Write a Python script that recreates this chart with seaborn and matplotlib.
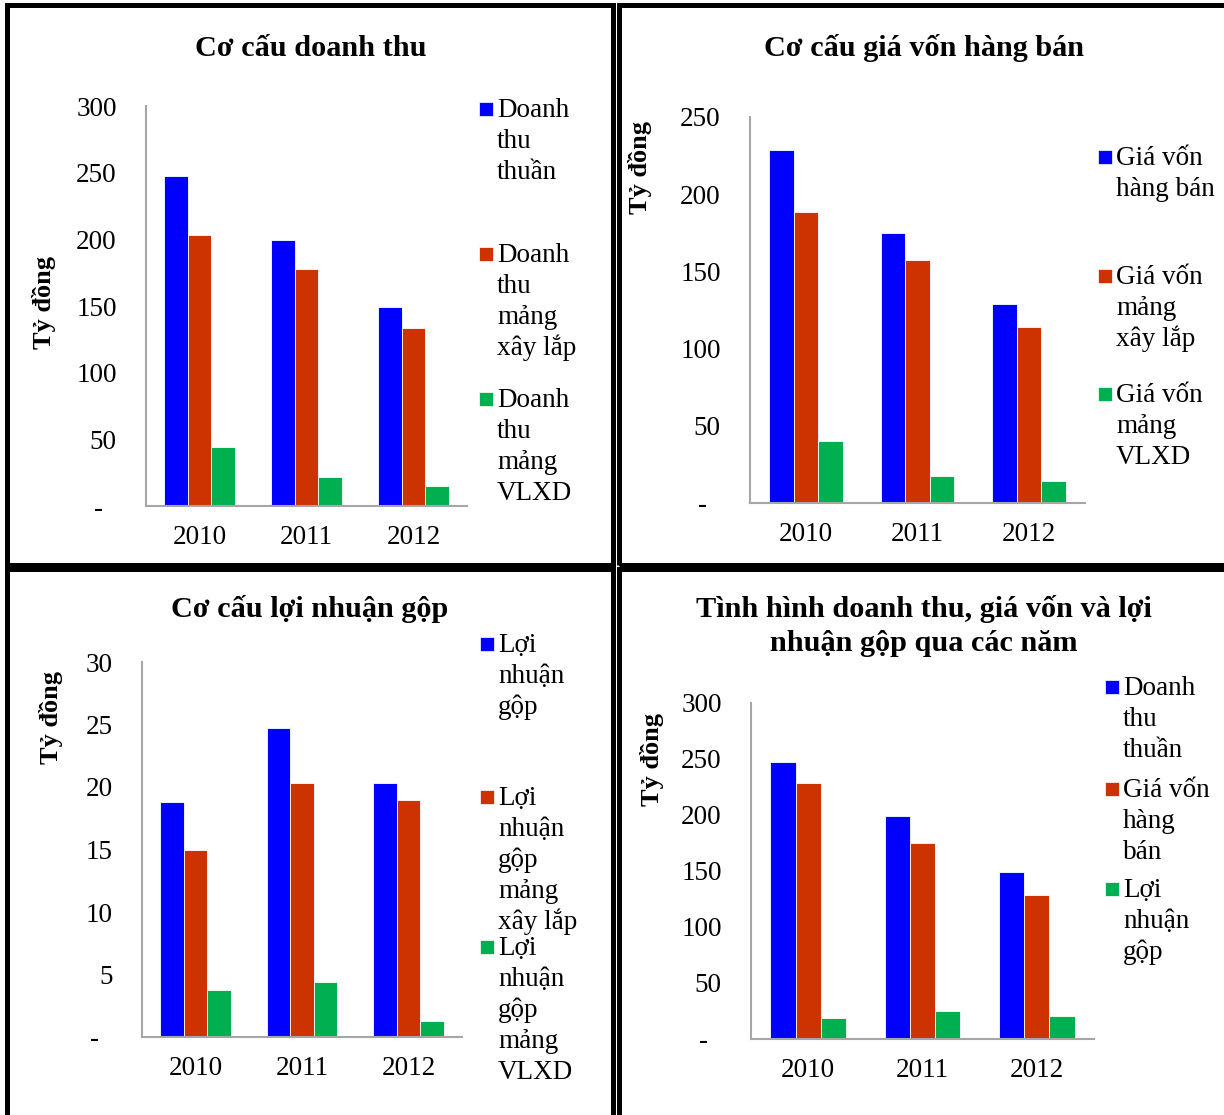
import numpy as np
import pandas as pd
import matplotlib.pyplot as plt
import matplotlib.patches as mpatches
import seaborn as sns

# so lieu (ty dong), doc tu hinh
years = ['2010', '2011', '2012']

dt_thuan = [247.6, 199.5, 148.9]
dt_xaylap = [203.5, 178.0, 133.3]
dt_vlxd = [44.5, 22.0, 15.0]

gv_hangban = [228.8, 175.0, 128.6]
gv_xaylap = [188.3, 157.2, 114.2]
gv_vlxd = [39.9, 17.2, 14.0]

ln_gop = [18.8, 24.7, 20.3]
ln_xaylap = [15.0, 20.3, 19.0]
ln_vlxd = [3.8, 4.4, 1.3]

colors = ['#0000FF', '#CC3300', '#00B050']

sns.set_style('white')
plt.rcParams['font.family'] = ['Liberation Serif', 'DejaVu Serif']
plt.rcParams['text.color'] = 'black'

W, H = 1224, 1115
fig = plt.figure(figsize=(W / 100, H / 100), dpi=100)


def px_axes(l, t, r, b):
    return fig.add_axes([l / W, 1 - b / H, (r - l) / W, (b - t) / H])


def fig_text(x, y, s, **kw):
    fig.text(x / W, 1 - y / H, s, **kw)


def bar_panel(box, series, names, ymax, step):
    ax = px_axes(*box)
    df = pd.DataFrame({'Năm': years * 3,
                       'Giá trị': sum(series, []),
                       'Chỉ tiêu': np.repeat(names, 3)})
    sns.barplot(data=df, x='Năm', y='Giá trị', hue='Chỉ tiêu', hue_order=names,
                palette=colors, saturation=1, width=0.66, edgecolor='white', linewidth=0.6,
                legend=False, ax=ax)
    ax.set_xlim(-0.5, 2.5)
    ax.set_ylim(0, ymax)
    yt = np.arange(0, ymax + step, step)
    ax.set_yticks(yt)
    ax.set_yticklabels(['-  '] + [f'{v:g}' for v in yt[1:]])
    ax.set_xticks([-0.5, 0.5, 1.5, 2.5])
    ax.set_xticklabels([])
    ax.set_xticks([0, 1, 2], minor=True)
    ax.set_xticklabels(years, minor=True)
    ax.tick_params(axis='x', which='major', length=8, width=1.3, color='#A6A6A6')
    ax.tick_params(axis='x', which='minor', length=0, pad=14, labelsize=19.5, labelcolor='black')
    ax.tick_params(axis='y', length=7, width=1.3, color='#A6A6A6', pad=14, labelsize=19.5,
                   labelcolor='black')
    ax.set_xlabel('')
    ax.set_ylabel('')
    for s in ['top', 'right']:
        ax.spines[s].set_visible(False)
    for s in ['left', 'bottom']:
        ax.spines[s].set_color('#A6A6A6')
        ax.spines[s].set_linewidth(1.5)
    return ax


def legend_entries(sq_x, baselines, labels, step=31):
    for col, base, lab in zip(colors, baselines, labels):
        fig.patches.append(mpatches.Rectangle((sq_x / W, 1 - (base - 1) / H), 14 / W, 14 / H,
                                              transform=fig.transFigure, facecolor=col,
                                              edgecolor='white', lw=0.5))
        for i, line in enumerate(lab.split('\n')):
            fig_text(sq_x + 18, base + i * step, line, fontsize=19.5, va='baseline', ha='left')


title_kw = dict(ha='center', va='baseline', fontsize=21.8, fontweight='bold')
ylab_kw = dict(rotation=90, ha='center', va='center', fontsize=19, fontweight='bold')

# 1. Co cau doanh thu
names1 = ['Doanh\nthu\nthuần', 'Doanh\nthu\nmảng\nxây lắp', 'Doanh\nthu\nmảng\nVLXD']
bar_panel((146, 106, 467, 506), [dt_thuan, dt_xaylap, dt_vlxd], names1, 300, 50)
fig_text(311, 56, 'Cơ cấu doanh thu', **title_kw)
fig_text(44, 302, 'Tỷ đồng', **ylab_kw)
legend_entries(479, [117, 262, 407], names1)

# 2. Co cau gia von hang ban
names2 = ['Giá vốn\nhàng bán', 'Giá vốn\nmảng\nxây lắp', 'Giá vốn\nmảng\nVLXD']
bar_panel((750, 117, 1085, 503), [gv_hangban, gv_xaylap, gv_vlxd], names2, 250, 50)
fig_text(924, 56, 'Cơ cấu giá vốn hàng bán', **title_kw)
fig_text(640, 168, 'Tỷ đồng', **ylab_kw)
legend_entries(1098, [165, 284, 402], names2)

# 3. Co cau loi nhuan gop
names3 = ['Lợi\nnhuận\ngộp', 'Lợi\nnhuận\ngộp\nmảng\nxây lắp', 'Lợi\nnhuận\ngộp\nmảng\nVLXD']
bar_panel((142, 662, 462, 1037), [ln_gop, ln_xaylap, ln_vlxd], names3, 30, 5)
fig_text(310, 617, 'Cơ cấu lợi nhuận gộp', **title_kw)
fig_text(51, 717, 'Tỷ đồng', **ylab_kw)
legend_entries(480, [652, 805, 955], names3)

# 4. Tong hop
names4 = ['Doanh\nthu\nthuần', 'Giá vốn\nhàng\nbán', 'Lợi\nnhuận\ngộp']
bar_panel((751, 703, 1094, 1039), [dt_thuan, gv_hangban, ln_gop], names4, 300, 50)
fig_text(924, 617, 'Tình hình doanh thu, giá vốn và lợi', **title_kw)
fig_text(924, 651, 'nhuận gộp qua các năm', **title_kw)
fig_text(652, 760, 'Tỷ đồng', **ylab_kw)
legend_entries(1105, [695, 797, 897], names4)

# khung den quanh tung bieu do
for (l, t, r, b) in [(7, 5, 613, 565), (619, 5, 1230, 565), (7, 569, 613, 1122), (619, 569, 1230, 1122)]:
    fig.patches.append(mpatches.Rectangle((l / W, 1 - b / H), (r - l) / W, (b - t) / H,
                                          transform=fig.transFigure, fill=False,
                                          edgecolor='black', lw=3.6))

plt.savefig('out.png', dpi=100)
plt.close()
